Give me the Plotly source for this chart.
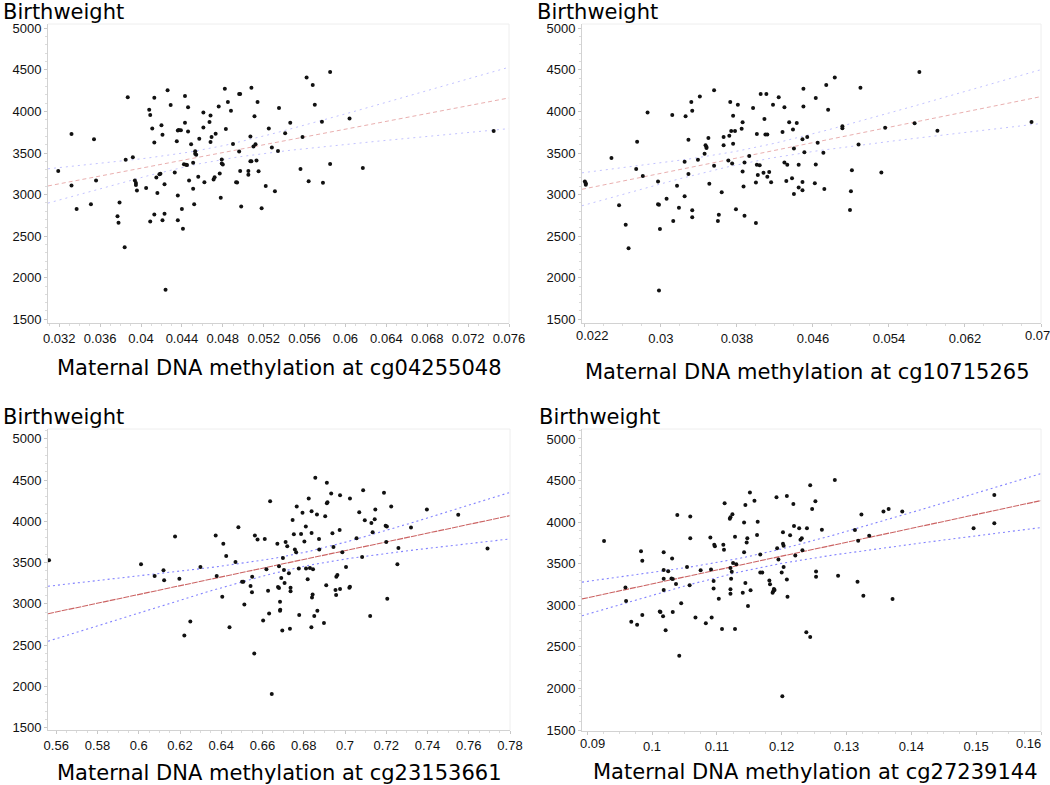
import numpy as np
import plotly.graph_objects as go

W, H = 1050, 785

# ---- data ----
p1_x = [0.0319, 0.0332, 0.0332, 0.0337, 0.0351, 0.0354, 0.0356, 0.0377, 0.0378, 0.0379,
        0.0384, 0.0385, 0.0387, 0.0392, 0.0394, 0.0395, 0.0395, 0.0396, 0.0405, 0.0408,
        0.0409, 0.0409, 0.0411, 0.0413, 0.0413, 0.0413, 0.0415, 0.0416, 0.0418, 0.0419,
        0.0420, 0.0421, 0.0421, 0.0423, 0.0423, 0.0424, 0.0426, 0.0429, 0.0433, 0.0435,
        0.0436, 0.0436, 0.0436, 0.0437, 0.0439, 0.0440, 0.0441, 0.0442, 0.0443, 0.0443,
        0.0444, 0.0445, 0.0446, 0.0446, 0.0447, 0.0449, 0.0451, 0.0451, 0.0452, 0.0453,
        0.0453, 0.0454, 0.0456, 0.0457, 0.0461, 0.0461, 0.0462, 0.0467, 0.0468, 0.0468,
        0.0469, 0.0471, 0.0472, 0.0473, 0.0476, 0.0477, 0.0478, 0.0479, 0.0479, 0.0480,
        0.0482, 0.0483, 0.0485, 0.0488, 0.0490, 0.0493, 0.0494, 0.0496, 0.0496, 0.0497,
        0.0497, 0.0498, 0.0505, 0.0505, 0.0507, 0.0507, 0.0508, 0.0508, 0.0510, 0.0511,
        0.0512, 0.0513, 0.0514, 0.0515, 0.0518, 0.0522, 0.0525, 0.0528, 0.0531, 0.0534,
        0.0535, 0.0541, 0.0546, 0.0556, 0.0558, 0.0562, 0.0564, 0.0568, 0.0570, 0.0577,
        0.0578, 0.0585, 0.0585, 0.0604, 0.0617, 0.0745]
p1_y = [3285, 3110, 3730, 2825, 2885, 3665, 3170, 2740, 2660, 2905,
        2365, 3420, 4170, 3450, 3170, 3140, 3115, 3050, 3080, 4020,
        3958, 2675, 3795, 4165, 3625, 2760, 3205, 3020, 3245, 3250,
        3835, 3720, 2690, 3125, 2770, 1855, 4255, 4077, 3265, 3640,
        3770, 2990, 2690, 3777, 3775, 2827, 2590, 3365, 3865, 4185,
        3360, 3355, 4050, 3758, 3168, 3604, 3070, 3383, 2885, 3520,
        3490, 3478, 3215, 3673, 3988, 3808, 3148, 3873, 3950, 3631,
        3692, 3180, 3207, 3731, 4061, 3254, 2962, 3375, 3422, 3363,
        4272, 3788, 4114, 4008, 3608, 3148, 3145, 3519, 4211, 4211,
        3285, 2858, 3285, 3238, 3700, 3402, 3402, 4285, 3577, 3942,
        3604, 3410, 4114, 3281, 2835, 3102, 3796, 3565, 3039, 3523,
        4041, 3738, 3865, 3309, 3692, 4407, 3160, 4317, 4081, 3877,
        3141, 4476, 3367, 3915, 3320, 3765]

p2_x = [0.0220, 0.0221, 0.0221, 0.0248, 0.0256, 0.0263, 0.0266, 0.0274, 0.0275, 0.0281,
        0.0286, 0.0297, 0.0297, 0.0298, 0.0299, 0.0298, 0.0306, 0.0312, 0.0313, 0.0317,
        0.0319, 0.0325, 0.0325, 0.0326, 0.0329, 0.0329, 0.0332, 0.0333, 0.0333, 0.0333,
        0.0339, 0.0341, 0.0346, 0.0347, 0.0348, 0.0348, 0.0350, 0.0351, 0.0356, 0.0356,
        0.0360, 0.0361, 0.0364, 0.0366, 0.0366, 0.0371, 0.0372, 0.0373, 0.0374, 0.0375,
        0.0376, 0.0376, 0.0378, 0.0379, 0.0381, 0.0385, 0.0386, 0.0386, 0.0387, 0.0388,
        0.0388, 0.0393, 0.0397, 0.0400, 0.0400, 0.0401, 0.0401, 0.0402, 0.0404, 0.0405,
        0.0408, 0.0409, 0.0410, 0.0412, 0.0412, 0.0411, 0.0414, 0.0416, 0.0418, 0.0424,
        0.0428, 0.0430, 0.0430, 0.0432, 0.0433, 0.0435, 0.0438, 0.0439, 0.0440, 0.0440,
        0.0443, 0.0445, 0.0445, 0.0449, 0.0449, 0.0449, 0.0450, 0.0450, 0.0451, 0.0454,
        0.0462, 0.0463, 0.0463, 0.0465, 0.0471, 0.0472, 0.0474, 0.0476, 0.0483, 0.0491,
        0.0491, 0.0499, 0.0500, 0.0501, 0.0508, 0.0510, 0.0532, 0.0536, 0.0567, 0.0572,
        0.0591, 0.0690]
p2_y = [3156, 3137, 3117, 3441, 2873, 2638, 2354, 3309, 3634, 3223,
        3988, 3156, 2885, 2877, 2585, 1847, 2950, 3957, 2681, 3105,
        2842, 2981, 3395, 3941, 3661, 3246, 4114, 4008, 2812, 2727,
        3418, 4179, 3492, 3594, 3571, 3559, 3681, 3129, 4256, 3348,
        2681, 2758, 3027, 3594, 3693, 3410, 3709, 4114, 3764, 3375,
        3949, 3610, 3764, 2823, 4081, 3791, 3277, 3870, 3098, 3387,
        2746, 3465, 4041, 2658, 3144, 3728, 3359, 3234, 3352, 4211,
        3262, 3909, 3724, 3215, 3724, 4211, 3273, 3148, 4081, 4171,
        3752, 4049, 3387, 3164, 3359, 3870, 3195, 3783, 3008, 3555,
        3862, 3359, 3086, 3665, 3152, 3051, 4061, 4272, 3508, 3693,
        3137, 3363, 4163, 3622, 3504, 3066, 4317, 4020, 4407, 3823,
        3799, 2815, 3039, 3293, 3602, 4285, 3266, 3803, 3858, 4476,
        3768, 3874]

p3_x = [0.5565, 0.6011, 0.6077, 0.6120, 0.6123, 0.6176, 0.6197, 0.6221, 0.6250, 0.6299,
        0.6373, 0.6378, 0.6405, 0.6410, 0.6424, 0.6440, 0.6469, 0.6483, 0.6501, 0.6507,
        0.6512, 0.6542, 0.6549, 0.6550, 0.6560, 0.6563, 0.6576, 0.6603, 0.6611, 0.6619,
        0.6627, 0.6632, 0.6637, 0.6645, 0.6672, 0.6675, 0.6680, 0.6680, 0.6685, 0.6686,
        0.6685, 0.6691, 0.6696, 0.6699, 0.6704, 0.6707, 0.6712, 0.6720, 0.6728, 0.6733,
        0.6736, 0.6736, 0.6746, 0.6752, 0.6757, 0.6763, 0.6766, 0.6776, 0.6778, 0.6787,
        0.6794, 0.6803, 0.6810, 0.6811, 0.6819, 0.6824, 0.6830, 0.6837, 0.6838, 0.6840,
        0.6843, 0.6838, 0.6845, 0.6851, 0.6856, 0.6864, 0.6866, 0.6874, 0.6875, 0.6898,
        0.6904, 0.6909, 0.6912, 0.6912, 0.6915, 0.6933, 0.6939, 0.6944, 0.6954, 0.6957,
        0.6958, 0.6963, 0.6974, 0.6976, 0.6976, 0.6987, 0.7005, 0.7021, 0.7024, 0.7024,
        0.7056, 0.7069, 0.7083, 0.7088, 0.7096, 0.7122, 0.7128, 0.7134, 0.7144, 0.7147,
        0.7189, 0.7197, 0.7200, 0.7203, 0.7205, 0.7224, 0.7254, 0.7259, 0.7320, 0.7397,
        0.7549, 0.7691]
p3_y = [3528, 3480, 3337, 3407, 3285, 3815, 3305, 2618, 2787, 3447,
        3827, 3337, 3085, 3728, 3579, 2717, 3508, 3929, 3268, 3268,
        2992, 3215, 3142, 3329, 2400, 3827, 3780, 2799, 3787, 3419,
        3159, 2882, 4242, 1907, 3728, 3203, 3455, 3191, 3024, 2929,
        2917, 3313, 2677, 3555, 3411, 3252, 3748, 3697, 3370, 2697,
        3195, 3154, 4016, 3843, 3657, 3626, 4179, 3427, 2866, 3846,
        4103, 3756, 3937, 3427, 3297, 4276, 3435, 2717, 3858, 3077,
        3114, 4123, 3419, 2854, 4528, 4083, 2917, 3787, 3657, 2768,
        4060, 3224, 4468, 4218, 4230, 4337, 3854, 3689, 3167, 3106,
        3329, 3350, 3894, 4317, 3179, 3626, 3447, 3195, 4276, 3207,
        3795, 4111, 3567, 4377, 4012, 2854, 3980, 3866, 4024, 4143,
        4345, 3945, 3748, 3937, 3061, 4179, 3480, 3677, 3925, 4143,
        4079, 3669]

p4_x = [0.0926, 0.0959, 0.0960, 0.0968, 0.0977, 0.0983, 0.0985, 0.0985, 0.1012, 0.1013,
        0.1017, 0.1018, 0.1018, 0.1018, 0.1018, 0.1021, 0.1025, 0.1030, 0.1031, 0.1032,
        0.1032, 0.1037, 0.1039, 0.1042, 0.1045, 0.1054, 0.1058, 0.1059, 0.1059, 0.1067,
        0.1075, 0.1083, 0.1090, 0.1091, 0.1092, 0.1095, 0.1095, 0.1096, 0.1097, 0.1103,
        0.1108, 0.1110, 0.1111, 0.1112, 0.1120, 0.1121, 0.1121, 0.1122, 0.1121, 0.1121,
        0.1123, 0.1124, 0.1125, 0.1128, 0.1128, 0.1130, 0.1140, 0.1142, 0.1142, 0.1144,
        0.1144, 0.1146, 0.1147, 0.1148, 0.1151, 0.1152, 0.1158, 0.1162, 0.1163, 0.1167,
        0.1167, 0.1170, 0.1181, 0.1182, 0.1186, 0.1187, 0.1188, 0.1189, 0.1192, 0.1193,
        0.1195, 0.1200, 0.1202, 0.1202, 0.1203, 0.1203, 0.1208, 0.1208, 0.1209, 0.1213,
        0.1218, 0.1219, 0.1221, 0.1201, 0.1227, 0.1229, 0.1231, 0.1232, 0.1238, 0.1239,
        0.1244, 0.1244, 0.1247, 0.1252, 0.1253, 0.1253, 0.1262, 0.1282, 0.1287, 0.1313,
        0.1317, 0.1318, 0.1323, 0.1326, 0.1335, 0.1357, 0.1365, 0.1371, 0.1386, 0.1496,
        0.1528, 0.1528]
p4_y = [3772, 3213, 3051, 2801, 2766, 3650, 3535, 2883, 2926, 2918,
        2867, 3638, 3425, 3319, 3185, 2699, 3409, 3323, 3563, 2918,
        3315, 3256, 4087, 2394, 3024, 3461, 3240, 4067, 3807, 2852,
        3421, 2785, 3815, 3429, 2852, 3291, 3201, 3728, 3709, 3079,
        2715, 3728, 3669, 4226, 4040, 4060, 3449, 3319, 3193, 3138,
        3402, 4095, 3508, 3823, 2715, 3492, 3150, 3638, 3996, 4206,
        3268, 3756, 3807, 2992, 4357, 3181, 4258, 3846, 4004, 3610,
        3394, 3394, 3299, 3252, 3150, 3169, 3197, 3185, 4298, 3685,
        3551, 3394, 3878, 3740, 3717, 3461, 4313, 3311, 3102, 3843,
        4218, 3953, 3598, 1906, 3925, 3787, 3807, 3661, 2676, 3925,
        2617, 4444, 4159, 4250, 3406, 3343, 3909, 4508, 3354, 3906,
        3283, 3776, 4091, 3114, 3835, 4127, 4159, 3075, 4127, 3925,
        4325, 3988]

# tick values / labels
y_ticks = [1500, 2000, 2500, 3000, 3500, 4000, 4500, 5000]
p1_ticks = [0.032, 0.036, 0.040, 0.044, 0.048, 0.052, 0.056, 0.060, 0.064, 0.068, 0.072, 0.076]
p1_labels = ["0.032", "0.036", "0.04", "0.044", "0.048", "0.052", "0.056", "0.06",
             "0.064", "0.068", "0.072", "0.076"]
p2_ticks = [0.022, 0.030, 0.038, 0.046, 0.054, 0.062, 0.070]
p2_labels = ["0.022", "0.03", "0.038", "0.046", "0.054", "0.062", "0.07"]
p3_ticks = [0.56, 0.58, 0.60, 0.62, 0.64, 0.66, 0.68, 0.70, 0.72, 0.74, 0.76, 0.78]
p3_labels = ["0.56", "0.58", "0.6", "0.62", "0.64", "0.66", "0.68", "0.7", "0.72",
             "0.74", "0.76", "0.78"]
p4_ticks = [0.09, 0.10, 0.11, 0.12, 0.13, 0.14, 0.15, 0.16]
p4_labels = ["0.09", "0.1", "0.11", "0.12", "0.13", "0.14", "0.15", "0.16"]

probes = ["cg04255048", "cg10715265", "cg23153661", "cg27239144"]


def fit_band(x, y, xs, t=1.98):
    """OLS fit with 95% confidence band for the mean."""
    x = np.asarray(x, float)
    y = np.asarray(y, float)
    n = len(x)
    b, a = np.polyfit(x, y, 1)
    resid = y - (a + b * x)
    s = np.sqrt(np.sum(resid ** 2) / (n - 2))
    sxx = np.sum((x - x.mean()) ** 2)
    se = s * np.sqrt(1.0 / n + (xs - x.mean()) ** 2 / sxx)
    fit = a + b * xs
    return fit, fit - t * se, fit + t * se


# pixel boxes of the plot areas (left, right, top, bottom), axis ranges,
# and how far (px) the first / last tick label is nudged inward like the original
panels = [
    dict(x=p1_x, y=p1_y, box=(48, 509, 24, 323), xr=[0.0309, 0.076], yr=[1455, 5052],
         ticks=p1_ticks, labels=p1_labels, minor=0.001, light=True, nudge=(0, 0)),
    dict(x=p2_x, y=p2_y, box=(582, 1041, 24, 323), xr=[0.0217, 0.070], yr=[1455, 5052],
         ticks=p2_ticks, labels=p2_labels, minor=0.002, light=True, nudge=(8, -4)),
    dict(x=p3_x, y=p3_y, box=(48, 510, 429, 730), xr=[0.556, 0.78], yr=[1472, 5118],
         ticks=p3_ticks, labels=p3_labels, minor=0.005, light=False, nudge=(0, 0)),
    dict(x=p4_x, y=p4_y, box=(582, 1041, 429, 731), xr=[0.0892, 0.16], yr=[1488, 5120],
         ticks=p4_ticks, labels=p4_labels, minor=0.0025, light=False, nudge=(5, -13)),
]

title_pos = [(1, 12), (535, 12), (1, 416.5), (537, 416.5)]
xtitle_pos = [(279, 367.5), (807, 372), (279, 772.5), (815, 772)]

fig = go.Figure()
layout = dict(width=W, height=H,
              margin=dict(l=0, r=0, t=0, b=0, autoexpand=False),
              paper_bgcolor="white", plot_bgcolor="white", showlegend=False)
shapes = []
annotations = []

tick_font = dict(family="Liberation Sans, Arial", size=13, color="#111111")
title_font = dict(family="DejaVu Sans", size=21, color="#000000")

for i, p in enumerate(panels, start=1):
    xa = "x" if i == 1 else f"x{i}"
    ya = "y" if i == 1 else f"y{i}"
    l, r, t, b = p["box"]

    xs = np.linspace(p["xr"][0], p["xr"][1], 80)
    fit, lo, hi = fit_band(p["x"], p["y"], xs)

    if p["light"]:
        red = dict(color="rgba(215,110,110,0.55)", width=1, dash="4px,3px")
        blue = dict(color="rgba(120,120,255,0.45)", width=1, dash="2px,4px")
    else:
        red = dict(color="rgba(190,60,60,0.8)", width=1.1, dash="6px,1px")
        blue = dict(color="rgba(90,90,255,0.75)", width=1.1, dash="2px,3px")

    for band in (lo, hi):
        fig.add_trace(go.Scatter(x=xs, y=band, mode="lines", line=blue,
                                 xaxis=xa, yaxis=ya, hoverinfo="skip"))
    fig.add_trace(go.Scatter(x=xs, y=fit, mode="lines", line=red,
                             xaxis=xa, yaxis=ya, hoverinfo="skip"))
    fig.add_trace(go.Scatter(x=p["x"], y=p["y"], mode="markers",
                             marker=dict(color="#111111", size=4),
                             xaxis=xa, yaxis=ya,
                             hovertemplate="%{x}<br>%{y}<extra></extra>"))

    # edge tick labels that the original pushes inward are drawn as annotations
    ticktext = list(p["labels"])
    n0, n1 = p["nudge"]
    if n0:
        annotations.append(dict(text=ticktext[0], xref=xa, yref=f"{ya} domain",
                                x=p["ticks"][0], y=0, xanchor="center", yanchor="top",
                                xshift=n0, yshift=-4, showarrow=False, font=tick_font,
                                borderpad=0))
        ticktext[0] = ""
    if n1:
        annotations.append(dict(text=ticktext[-1], xref=f"{xa} domain", yref=f"{ya} domain",
                                x=1, y=0, xanchor="center", yanchor="top",
                                xshift=n1, yshift=-4, showarrow=False, font=tick_font,
                                borderpad=0))
        ticktext[-1] = ""

    layout["xaxis" if i == 1 else f"xaxis{i}"] = dict(
        domain=[l / W, r / W], anchor=ya, range=p["xr"],
        tickmode="array", tickvals=p["ticks"], ticktext=ticktext,
        ticklabeloverflow="allow",
        showline=True, linecolor="#d2d2d2", linewidth=1,
        ticks="outside", ticklen=3, tickcolor="#c8c8c8",
        minor=dict(ticks="outside", ticklen=2, tickcolor="#dcdcdc",
                   tickmode="linear", tick0=p["ticks"][0], dtick=p["minor"]),
        tickfont=tick_font, showgrid=False, zeroline=False, automargin=False,
    )
    layout["yaxis" if i == 1 else f"yaxis{i}"] = dict(
        domain=[1 - b / H, 1 - t / H], anchor=xa, range=p["yr"],
        tickmode="array", tickvals=y_ticks,
        showline=True, linecolor="#d2d2d2", linewidth=1,
        ticks="outside", ticklen=3, tickcolor="#c8c8c8",
        minor=dict(ticks="outside", ticklen=2, tickcolor="#dcdcdc",
                   tickmode="linear", tick0=1500, dtick=100),
        tickfont=tick_font, showgrid=False, zeroline=False, automargin=False,
    )

    # faint top and right frame
    shapes.append(dict(type="line", xref=f"{xa} domain", yref=f"{ya} domain",
                       x0=0, x1=1, y0=1, y1=1, line=dict(color="#eeeeee", width=1)))
    shapes.append(dict(type="line", xref=f"{xa} domain", yref=f"{ya} domain",
                       x0=1, x1=1, y0=0, y1=1, line=dict(color="#eeeeee", width=1)))

    tx, ty = title_pos[i - 1]
    annotations.append(dict(text="Birthweight", xref="paper", yref="paper",
                            x=tx / W, y=1 - ty / H, xanchor="left", yanchor="middle",
                            showarrow=False, font=title_font))
    gx, gy = xtitle_pos[i - 1]
    annotations.append(dict(text=f"Maternal DNA methylation at {probes[i - 1]}",
                            xref="paper", yref="paper", x=gx / W, y=1 - gy / H,
                            xanchor="center", yanchor="middle",
                            showarrow=False, font=title_font))

layout["shapes"] = shapes
layout["annotations"] = annotations
fig.update_layout(**layout)

# the page's default body margin would offset the figure by 8px
fig.write_html("out.html", config={"displayModeBar": False},
               post_script="document.body.style.margin = '0';")
